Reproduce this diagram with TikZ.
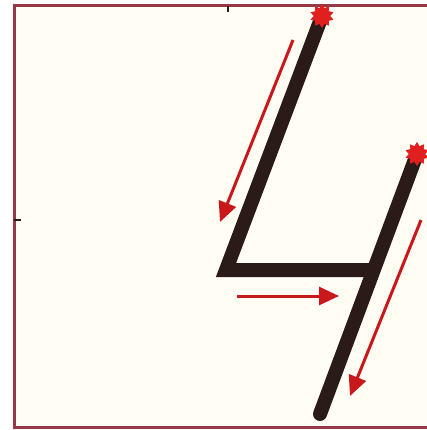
\documentclass[tikz,border=0pt]{standalone}
\usetikzlibrary{shapes.geometric,arrows.meta}
\definecolor{paper}{HTML}{FFFDF4}
\definecolor{frame}{HTML}{953848}
\definecolor{ink}{HTML}{2A1A18}
\definecolor{redink}{HTML}{C8181C}
\definecolor{splatred}{HTML}{E0201E}
\tikzset{
  strokeline/.style={draw=ink,line width=14pt,line cap=round,line join=miter},
  guide/.style={draw=redink,line width=3pt,-{Triangle[length=20pt,width=18pt]}},
  splat/.style={star,star points=10,star point ratio=1.45,fill=splatred,draw=none,minimum size=24pt,inner sep=0pt},
  tick/.style={draw=ink,line width=2.5pt}
}
\begin{document}
\begin{tikzpicture}[x=1pt,y=-1pt]
\useasboundingbox (0,0) rectangle (426,430);
\fill[white] (0,0) rectangle (426,430);
\fill[paper] (14,6) rectangle (430,427);
\draw[frame,line width=3pt] (430,6) -- (14,6) -- (14,427) -- (430,427);
% ticks
\coordinate (tt1) at (228,6);
\coordinate (tt2) at (228,12);
\coordinate (lt1) at (14,220);
\coordinate (lt2) at (21,220);
\draw[tick] (tt1) -- (tt2);
\draw[tick] (lt1) -- (lt2);
% strokes
\coordinate (a) at (322,16);
\coordinate (b) at (226,270);
\coordinate (c) at (373,270);
\coordinate (d) at (417,154);
\coordinate (e) at (320,414);
\draw[strokeline] (a) -- (b) -- (c);
\draw[strokeline] (d) -- (e);
% start splats
\node[splat] (s1) at (a) {};
\node[splat] (s2) at (d) {};
% arrows
\coordinate (g1s) at (293,40);
\coordinate (g1e) at (220,222);
\coordinate (g2s) at (237,296);
\coordinate (g2e) at (339,296);
\coordinate (g3s) at (421,220);
\coordinate (g3e) at (350,396);
\draw[guide] (g1s) -- (g1e);
\draw[guide] (g2s) -- (g2e);
\draw[guide] (g3s) -- (g3e);
\end{tikzpicture}
\end{document}
